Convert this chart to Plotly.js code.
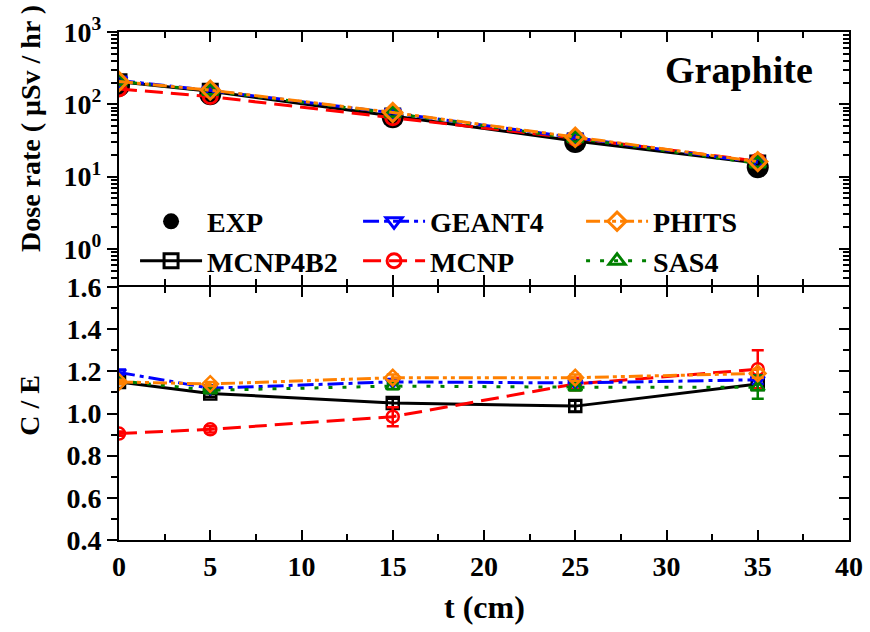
<!DOCTYPE html>
<html>
<head>
<meta charset="utf-8">
<script src="https://cdn.plot.ly/plotly-3.0.1.min.js"></script>
<style>html,body{margin:0;padding:0;background:#fff;}#chart{width:870px;height:632px;}</style>
</head>
<body>
<div id="chart"></div>
<script>
// ---- data ----
const thickness = [0, 5, 15, 25, 35];
const doseEXP     = [180, 138, 66, 30, 13.5];
const doseMCNP4B2 = [205, 151, 69, 31, 15.4];
const doseMCNP    = [163, 128, 65, 34, 16.3];
const doseGEANT4  = [214, 155, 76, 34.5, 15.7];
const dosePHITS   = [207, 157, 77, 35, 16.1];
const doseSAS4    = [208, 153, 75, 34, 15.2];

const ceMCNP4B2 = [1.15, 1.095, 1.05, 1.035, 1.14];
const ceMCNP    = [0.905, 0.925, 0.985, 1.14, 1.21];
const ceGEANT4  = [1.195, 1.12, 1.15, 1.145, 1.16];
const cePHITS   = [1.15, 1.14, 1.17, 1.17, 1.19];
const ceSAS4    = [1.155, 1.11, 1.13, 1.125, 1.125];

const errMCNP4B2 = [0.01, 0.015, 0.02, 0.025, 0.02];
const errMCNP    = [0.01, 0.015, 0.045, 0.03, 0.09];
const errGEANT4  = [0.01, 0.01, 0.01, 0.012, 0.02];
const errPHITS   = [0.01, 0.01, 0.015, 0.015, 0.02];
const errSAS4    = [0.01, 0.01, 0.015, 0.015, 0.055];

const decadeVals = [1, 10, 100, 1000];
const decadeText = ['10<sup>0</sup>', '10<sup>1</sup>', '10<sup>2</sup>', '10<sup>3</sup>'];

// ---- styles ----
const FONT = 'Liberation Serif';
const series = [
  {name:'MCNP4B2', dose:doseMCNP4B2, ce:ceMCNP4B2, err:errMCNP4B2, color:'#000000', dash:'solid', symbol:'square-open', rank:4},
  {name:'MCNP', dose:doseMCNP, ce:ceMCNP, err:errMCNP, color:'#FF0000', dash:'18px,8px', symbol:'circle-open', rank:5},
  {name:'GEANT4', dose:doseGEANT4, ce:ceGEANT4, err:errGEANT4, color:'#0000FF', dash:'16px,5px,4px,5px', symbol:'triangle-down-open', rank:2},
  {name:'SAS4', dose:doseSAS4, ce:ceSAS4, err:errSAS4, color:'#008000', dash:'4px,10px', symbol:'triangle-up-open', rank:6},
  {name:'PHITS', dose:dosePHITS, ce:cePHITS, err:errPHITS, color:'#FF8000', dash:'14px,4px,4px,4px,4px,4px', symbol:'diamond-open', rank:3}
];

const traces = [];
traces.push({
  x: thickness, y: doseEXP, xaxis:'x2', yaxis:'y2', mode:'markers', name:'EXP',
  marker:{symbol:'circle', size:22, color:'#000000'}, legendrank:1
});
series.forEach(s => {
  traces.push({
    x: thickness, y: s.dose, xaxis:'x2', yaxis:'y2', mode:'lines+markers', name:s.name,
    line:{color:s.color, width:3, dash:s.dash},
    marker:{symbol:s.symbol, size:14, color:s.color, line:{color:s.color, width:3}},
    legendrank:s.rank
  });
});
series.forEach(s => {
  traces.push({
    x: thickness, y: s.ce, xaxis:'x', yaxis:'y', mode:'lines+markers', name:s.name, showlegend:false,
    line:{color:s.color, width:3, dash:s.dash},
    marker:{symbol:s.symbol, size:12, color:s.color, line:{color:s.color, width:2.5}},
    error_y:{type:'data', array:s.err, visible:true, color:s.color, thickness:2.5, width:6}
  });
});
// helper traces so right-side overlay axes exist
traces.push({x:[null], y:[null], xaxis:'x', yaxis:'y3', showlegend:false, hoverinfo:'skip'});
traces.push({x:[null], y:[null], xaxis:'x2', yaxis:'y4', showlegend:false, hoverinfo:'skip'});

const minorLog = [];
for (let p = -1; p < 3; p++) for (let m = 2; m <= 9; m++) minorLog.push(m * Math.pow(10, p));

const tickFont = {family:FONT, size:28, color:'#000', weight:'bold'};
const xBase = {
  range:[0, 40], dtick:5, tick0:0, ticks:'inside', ticklen:10, tickwidth:2, tickcolor:'#000',
  minor:{dtick:2.5, ticks:'inside', ticklen:6, tickwidth:2, tickcolor:'#000'},
  showline:true, linewidth:2, linecolor:'#000', mirror:'ticks', showgrid:false, zeroline:false,
  tickfont:tickFont
};
const gap = 1 / 508;

const layout = {
  width:870, height:632,
  margin:{l:119, r:21, t:32, b:92},
  paper_bgcolor:'#fff', plot_bgcolor:'#fff',
  font:{family:FONT, color:'#000'},
  showlegend:true,
  xaxis: Object.assign({}, xBase, {anchor:'y', domain:[0,1]}),
  xaxis2: Object.assign({}, xBase, {anchor:'y2', domain:[0,1], matches:'x', showticklabels:false}),
  yaxis: {
    domain:[0, 0.5 - gap], range:[0.4, 1.6], dtick:0.2, tick0:0.4, tickformat:'.1f',
    ticks:'outside', ticklen:10, tickwidth:2, tickcolor:'#000',
    minor:{dtick:0.1, ticks:'outside', ticklen:6, tickwidth:2, tickcolor:'#000'},
    showline:true, linewidth:2, linecolor:'#000', mirror:true, showgrid:false, zeroline:false,
    tickfont:tickFont, anchor:'x'
  },
  yaxis3: {
    overlaying:'y', side:'right', anchor:'x', range:[0.4, 1.6], dtick:0.2, tick0:0.4,
    ticks:'inside', ticklen:10, tickwidth:2, tickcolor:'#000',
    minor:{dtick:0.1, ticks:'inside', ticklen:6, tickwidth:2, tickcolor:'#000'},
    showticklabels:false, showline:false, showgrid:false, zeroline:false
  },
  yaxis2: {
    domain:[0.5 + gap, 1], type:'log', range:[-0.5, 3], tickmode:'array', tickvals:decadeVals, ticktext:decadeText,
    ticks:'outside', ticklen:10, tickwidth:2, tickcolor:'#000',
    minor:{tickmode:'array', tickvals:minorLog, ticks:'outside', ticklen:6, tickwidth:2, tickcolor:'#000'},
    showline:true, linewidth:2, linecolor:'#000', mirror:true, showgrid:false, zeroline:false,
    tickfont:tickFont, anchor:'x2'
  },
  yaxis4: {
    overlaying:'y2', side:'right', anchor:'x2', type:'log', range:[-0.5, 3], tickmode:'array', tickvals:decadeVals,
    ticks:'inside', ticklen:10, tickwidth:2, tickcolor:'#000',
    minor:{tickmode:'array', tickvals:minorLog, ticks:'inside', ticklen:6, tickwidth:2, tickcolor:'#000'},
    showticklabels:false, showline:false, showgrid:false, zeroline:false
  },
  legend:{
    orientation:'h', x:0.022, xanchor:'left', y:0.676, yanchor:'top',
    bgcolor:'rgba(0,0,0,0)', borderwidth:0,
    font:{family:FONT, size:28, color:'#000', weight:'bold'},
    itemwidth:62, entrywidth:146, entrywidthmode:'pixels', traceorder:'normal', tracegroupgap:0
  },
  annotations:[
    {text:'<b>Graphite</b>', xref:'paper', yref:'paper', x:0.849, y:0.925, showarrow:false,
     font:{family:FONT, size:38, color:'#000'}, xanchor:'center', yanchor:'middle'},
    {text:'<b>Dose rate ( μSv / hr )</b>', xref:'paper', yref:'paper', x:-0.122, y:0.811, showarrow:false,
     textangle:-90, font:{family:FONT, size:28, color:'#000'}, xanchor:'center', yanchor:'middle'},
    {text:'<b>C / E</b>', xref:'paper', yref:'paper', x:-0.122, y:0.266, showarrow:false,
     textangle:-90, font:{family:FONT, size:28, color:'#000'}, xanchor:'center', yanchor:'middle'},
    {text:'<b>t (cm)</b>', xref:'paper', yref:'paper', x:0.5, y:-0.132, showarrow:false,
     font:{family:FONT, size:32, color:'#000'}, xanchor:'center', yanchor:'middle'}
  ]
};

Plotly.newPlot('chart', traces, layout, {displayModeBar:false, staticPlot:true});
</script>
</body>
</html>
